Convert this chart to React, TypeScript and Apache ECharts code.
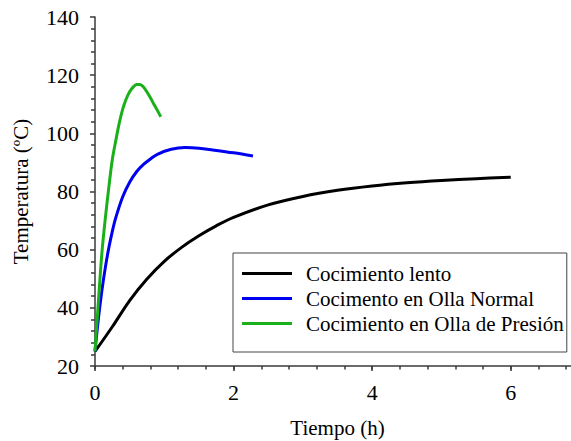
import React, { useEffect, useRef } from "react";
import * as echarts from "echarts";

const seriesNames = [
  "Cocimiento lento",
  "Cocimento en Olla Normal",
  "Cocimiento en Olla de Presión",
];

// [tiempo (h), temperatura (ºC)]
const lentoData: [number, number][] = [
  [0, 25], [0.25, 33.5], [0.5, 42.5], [0.75, 49.9], [1, 56],
  [1.25, 60.8], [1.5, 64.8], [1.75, 68.2], [2, 71.1], [2.5, 75.4],
  [3, 78.3], [3.5, 80.4], [4, 81.9], [4.5, 83], [5, 83.8],
  [5.5, 84.4], [6, 84.9],
];

const normalData: [number, number][] = [
  [0, 25], [0.05, 36.5], [0.1, 46], [0.15, 54], [0.2, 60.7],
  [0.25, 66.3], [0.3, 71], [0.4, 78.2], [0.5, 83.2], [0.6, 86.8],
  [0.7, 89.3], [0.8, 91.2], [0.9, 92.8], [1.1, 94.5], [1.3, 95.1],
  [1.5, 94.9], [1.7, 94.3], [2.0, 93.3], [2.28, 92.2],
];

const presionData: [number, number][] = [
  [0, 25], [0.05, 42.5], [0.1, 59], [0.15, 71], [0.2, 81.5],
  [0.25, 91], [0.3, 97.5], [0.35, 103.5], [0.4, 108.3], [0.45, 111.8],
  [0.5, 114.3], [0.55, 115.9], [0.6, 116.8], [0.65, 116.8], [0.7, 115.9],
  [0.75, 114.2], [0.8, 112.2], [0.85, 110], [0.9, 107.9], [0.95, 105.7],
];

const xLabelValues = [0, 2, 4, 6];
const colors = ["#000000", "#0000f0", "#1ab01a"];

const FONT = "'Liberation Serif', 'Times New Roman', serif";

export default function App() {
  const ref = useRef<HTMLDivElement>(null);

  useEffect(() => {
    if (!ref.current) return;
    const chart = echarts.init(ref.current, null, { renderer: "svg" });
    const axisColor = "#3a3a3a";
    const mkSeries = (i: number, data: [number, number][]) => ({
      name: seriesNames[i],
      type: "line",
      data,
      smooth: 0.35,
      symbol: "none",
      lineStyle: { color: colors[i], width: 3 },
      itemStyle: { color: colors[i] },
    });
    chart.setOption({
      animation: false,
      backgroundColor: "#ffffff",
      textStyle: { fontFamily: FONT },
      grid: {
        left: 95,
        top: 17,
        width: 485,
        height: 349,
        containLabel: false,
        outerBoundsMode: "none",
      },
      legend: {
        orient: "vertical",
        left: 233,
        top: 253,
        data: seriesNames,
        icon: "rect",
        itemWidth: 50,
        itemHeight: 3,
        itemGap: 4,
        padding: [10, 3, 18, 9],
        borderColor: "#444",
        borderWidth: 1,
        backgroundColor: "#fff",
        textStyle: {
          fontFamily: FONT,
          fontSize: 21,
          color: "#000",
          padding: [0, 0, 0, 9],
        },
      },
      xAxis: [
        {
          type: "value",
          min: 0,
          max: 7,
          interval: 2,
          name: "Tiempo (h)",
          nameLocation: "middle",
          nameGap: 51,
          nameTextStyle: { fontFamily: FONT, fontSize: 21, color: "#000" },
          axisLine: { show: true, lineStyle: { color: axisColor, width: 1.5 } },
          axisTick: { show: true, length: 5, lineStyle: { color: axisColor, width: 1.5 } },
          axisLabel: {
            fontFamily: FONT,
            fontSize: 22,
            color: "#000",
            margin: 15,
            formatter: (v: number) =>
              xLabelValues.indexOf(Math.round(v)) >= 0 && Math.abs(v - Math.round(v)) < 1e-6
                ? String(Math.round(v))
                : "",
          },
          splitLine: { show: false },
        },
        {
          type: "value",
          position: "bottom",
          min: 0,
          max: 7,
          interval: 0.4,
          axisLine: { show: false },
          axisTick: { show: true, length: 3.5, lineStyle: { color: axisColor, width: 1.5 } },
          axisLabel: { show: false },
          splitLine: { show: false },
        },
      ],
      yAxis: {
        type: "value",
        min: 20,
        max: 140,
        interval: 20,
        name: "Temperatura (ºC)",
        nameLocation: "middle",
        nameGap: 64,
        nameTextStyle: { fontFamily: FONT, fontSize: 21, color: "#000" },
        axisLine: { show: true, lineStyle: { color: axisColor, width: 1.5 } },
        axisTick: { show: true, length: 5, lineStyle: { color: axisColor, width: 1.5 } },
        minorTick: { show: true, splitNumber: 5, length: 4, lineStyle: { color: axisColor, width: 1.5 } },
        axisLabel: { fontFamily: FONT, fontSize: 22, color: "#000", margin: 16 },
        splitLine: { show: false },
        minorSplitLine: { show: false },
      },
      series: [
        mkSeries(0, lentoData),
        mkSeries(1, normalData),
        mkSeries(2, presionData),
      ],
    });
    return () => chart.dispose();
  }, []);

  return (
    <div
      ref={ref}
      style={{ position: "fixed", left: 0, top: 0, width: 571, height: 441 }}
    />
  );
}
